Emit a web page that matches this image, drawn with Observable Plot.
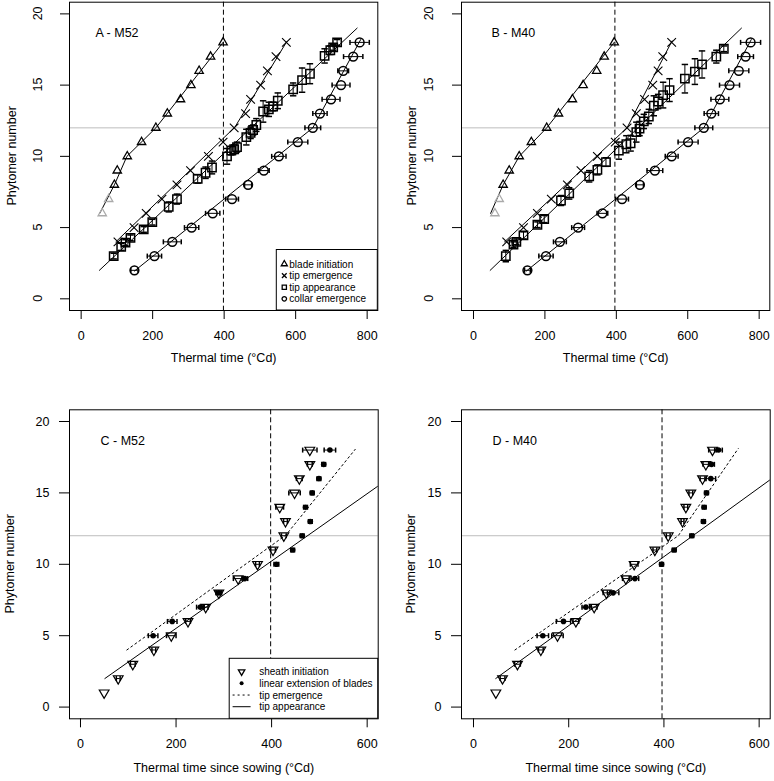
<!DOCTYPE html>
<html>
<head>
<meta charset="utf-8">
<script src="https://cdn.jsdelivr.net/npm/d3@7"></script>
<script src="https://cdn.jsdelivr.net/npm/@observablehq/plot@0.6"></script>
<style>
  body { margin: 0; background: #fff; }
  #fig { position: relative; width: 774px; height: 781px; }
  .panel { position: absolute; }
</style>
</head>
<body>
<div id="fig">
  <div class="panel" id="pA" style="left:0;top:0"></div>
  <div class="panel" id="pB" style="left:387px;top:0"></div>
  <div class="panel" id="pC" style="left:0;top:390px"></div>
  <div class="panel" id="pD" style="left:387px;top:390px"></div>
</div>
<script>
const font = "'Liberation Sans', Arial, Helvetica, sans-serif";

const yTicks = [0, 5, 10, 15, 20];
const xTicksTop = [0, 200, 400, 600, 800];
const xTicksBottom = [0, 200, 400, 600];

// ---- A - M52 ----
const aBladeEarlyT = [59, 77];
const aBladeEarlyN = [6, 7];
const aBladeT = [93, 101, 129, 169, 209, 241, 278, 307, 330, 362, 397];
const aBladeN = [8, 9, 10, 11, 12, 13, 14, 15, 16, 17, 18];
const aTipEmT = [103, 148, 182, 226, 268, 306, 356, 397, 428, 460, 474, 502, 521, 545, 574];
const aTipEmN = [4, 5, 6, 7, 8, 9, 10, 11, 12, 13, 14, 15, 16, 17, 18];
const aTipAppT = [91, 112, 124, 138, 175, 199, 245, 268, 326, 348, 366, 408, 420, 428, 436, 462, 474, 481, 490, 509, 525, 537, 550, 593, 618, 640, 681, 697, 705, 716];
const aTipAppN = [3.0, 3.65, 3.95, 4.28, 4.87, 5.38, 6.45, 7.0, 8.42, 8.85, 9.22, 10.0, 10.4, 10.5, 10.65, 11.35, 11.65, 11.85, 12.2, 13.15, 13.3, 13.5, 13.9, 14.7, 15.35, 15.8, 17.05, 17.45, 17.65, 18.0];
const aTipAppSe = [0.2, 0.25, 0.2, 0.2, 0.2, 0.2, 0.35, 0.35, 0.3, 0.4, 0.45, 0.55, 0.3, 0.3, 0.35, 0.55, 0.4, 0.35, 0.45, 0.75, 0.5, 0.3, 0.55, 0.45, 0.85, 0.7, 0.5, 0.3, 0.2, 0.2];
const aCollarT = [149, 205, 255, 309, 368, 422, 467, 511, 553, 606, 648, 668, 699, 727, 733, 761, 779];
const aCollarN = [2, 3, 4, 5, 6, 7, 8, 9, 10, 11, 12, 13, 14, 15, 16, 17, 18];
const aCollarSe = [10, 20, 25, 20, 20, 18, 10, 15, 20, 28, 22, 20, 25, 25, 15, 27, 27];
// fitted curves (knots)
const aFitBladeT = [52, 93, 128, 209, 397];
const aFitBladeN = [6, 8, 10, 12, 18];
const aFitTipEmT = [97, 430, 575];
const aFitTipEmN = [4, 12.05, 18.05];
const aFitTipAppT = [51, 772];
const aFitTipAppN = [2, 19];
const aFitCollarT = [149, 648, 782];
const aFitCollarN = [1.95, 12, 18.2];

// ---- B - M40 ----
const bBladeEarlyT = [60, 72];
const bBladeEarlyN = [6, 7];
const bBladeT = [83, 100, 128, 162, 205, 238, 277, 307, 345, 366, 394];
const bBladeN = [8, 9, 10, 11, 12, 13, 14, 15, 16, 17, 18];
const bTipEmT = [93, 140, 179, 218, 263, 301, 347, 397, 430, 456, 479, 502, 517, 530, 555];
const bTipEmN = [4, 5, 6, 7, 8, 9, 10, 11, 12, 13, 14, 15, 16, 17, 18];
const bTipAppT = [90.5, 112, 120, 140, 179, 198, 245, 268, 324, 347, 371, 407, 428, 440, 456, 465, 477, 491, 505, 517, 531, 549, 592, 620, 640, 680, 701];
const bTipAppN = [3.0, 3.8, 4.0, 4.45, 5.2, 5.6, 6.9, 7.4, 8.6, 9.05, 9.6, 10.4, 10.85, 10.92, 11.7, 11.95, 12.45, 12.8, 13.55, 13.85, 14.3, 14.65, 15.45, 15.95, 16.45, 17.0, 17.55];
const bTipAppSe = [0.4, 0.2, 0.2, 0.25, 0.2, 0.25, 0.35, 0.4, 0.4, 0.35, 0.3, 0.6, 0.6, 0.55, 0.7, 0.5, 0.5, 0.5, 0.7, 0.5, 0.9, 0.8, 1.0, 0.9, 0.95, 0.45, 0.2];
const bCollarT = [151, 203, 242, 293, 361, 416, 466, 508, 555, 601, 645, 666, 690, 717, 743, 762, 776];
const bCollarN = [2, 3, 4, 5, 6, 7, 8, 9, 10, 11, 12, 13, 14, 15, 16, 17, 18];
const bCollarSe = [8, 20, 18, 18, 15, 18, 10, 22, 18, 28, 25, 20, 25, 28, 28, 22, 28];
const bFitBladeT = [48, 83, 128, 205, 394];
const bFitBladeN = [6, 8, 10, 12, 18];
const bFitTipEmT = [87, 430, 556];
const bFitTipEmN = [4, 12, 18.1];
const bFitTipAppT = [46.7, 750.5];
const bFitTipAppN = [2, 19];
const bFitCollarT = [148, 645, 778];
const bFitCollarN = [1.95, 12, 18.2];

// ---- C - M52 (since sowing) ----
const cSheathT = [49.5, 79, 109.5, 153.5, 190, 225, 262, 289.5, 330, 370.5, 403, 425.6, 429, 417, 448, 458, 480, 480];
const cSheathN = [1, 2, 3, 4, 5, 6, 7, 8, 9, 10, 11, 12, 13, 14, 15, 16, 17, 18];
const cSheathSe = [0, 4, 5, 4, 10, 5, 5, 5, 10, 4, 5, 5, 4, 8, 12, 6, 5, 15];
const cBladeT = [152, 192, 251, 289.5, 344, 410, 444, 464, 481, 471, 485, 499, 509, 522];
const cBladeN = [5, 6, 7, 8, 9, 10, 11, 12, 13, 14, 15, 16, 17, 18];
const cBladeSe = [10, 10, 8, 6, 6, 5, 4, 4, 4, 4, 4, 4, 4, 12];

// ---- D - M40 (since sowing) ----
const dSheathT = [47, 61, 92.4, 141.4, 176.4, 215, 253.4, 279.3, 320, 337.5, 381, 409, 439, 446, 456.5, 481, 488, 502];
const dSheathN = [1, 2, 3, 4, 5, 6, 7, 8, 9, 10, 11, 12, 13, 14, 15, 16, 17, 18];
const dSheathSe = [0, 5, 6, 5, 12, 6, 6, 7, 7, 8, 4, 4, 3, 4, 4, 5, 6, 8];
const dBladeT = [145.6, 189, 236, 293.3, 339, 395, 421.5, 458.6, 483, 484.5, 489.4, 498.5, 500, 514.6];
const dBladeN = [5, 6, 7, 8, 9, 10, 11, 12, 13, 14, 15, 16, 17, 18];
const dBladeSe = [12, 15, 8, 12, 8, 4, 4, 4, 4, 4, 4, 10, 6, 8];

const zip = (t, n, e) => t.map((v, i) => ({t: v, n: n[i], e: e ? e[i] : 0}));

// error bar caps as custom symbols
const hcap = {draw(ctx, size) { const r = Math.sqrt(size / Math.PI); ctx.moveTo(-r, 0); ctx.lineTo(r, 0); }};
const vcap = {draw(ctx, size) { const r = Math.sqrt(size / Math.PI); ctx.moveTo(0, -r); ctx.lineTo(0, r); }};

function vBars(data) {
  return [
    Plot.ruleX(data, {x: "t", y1: d => d.n - d.e, y2: d => d.n + d.e, stroke: "black"}),
    Plot.dot(data, {x: "t", y: d => d.n - d.e, symbol: hcap, r: 3.2, stroke: "black", fill: "none"}),
    Plot.dot(data, {x: "t", y: d => d.n + d.e, symbol: hcap, r: 3.2, stroke: "black", fill: "none"})
  ];
}
function hBars(data, r = 2.5) {
  const d2 = data.filter(d => d.e > 0);
  return [
    Plot.ruleY(d2, {y: "n", x1: d => d.t - d.e, x2: d => d.t + d.e, stroke: "black"}),
    Plot.dot(d2, {x: d => d.t - d.e, y: "n", symbol: vcap, r, stroke: "black", fill: "none"}),
    Plot.dot(d2, {x: d => d.t + d.e, y: "n", symbol: vcap, r, stroke: "black", fill: "none"})
  ];
}
function fit(t, n, opts = {}) {
  return Plot.line(zip(t, n), {x: "t", y: "n", stroke: "black", strokeWidth: 1, ...opts});
}

function panel(cfg) {
  const chart = Plot.plot({
    width: cfg.width,
    height: cfg.height,
    marginLeft: cfg.ml,
    marginRight: cfg.mr,
    marginTop: cfg.mt,
    marginBottom: cfg.mb,
    x: {domain: cfg.xDomain},
    y: {domain: [-0.82, 20.82]},
    style: {fontFamily: font, fontSize: "12.5px", color: "black", background: "white"},
    marks: [
      Plot.ruleY([12], {stroke: "#bdbdbd", strokeWidth: 1}),
      Plot.ruleX([cfg.vline], {stroke: "black", strokeDasharray: "5,3"}),
      ...cfg.marks,
      Plot.frame({stroke: "black"}),
      Plot.axisX(cfg.xTicks, {tickSize: 9, tickPadding: cfg.xPad, label: null}),
      cfg.rotateY
        ? Plot.axisY(yTicks, {tickSize: 9, tickFormat: () => "", label: null})
        : Plot.axisY(yTicks, {tickSize: 10, tickPadding: 10, label: null}),
      Plot.text([cfg.xLabel], {frameAnchor: "bottom", dy: cfg.xTitleDy}),
      Plot.text([cfg.title], {frameAnchor: "top-left", dx: cfg.titleDx, dy: cfg.titleDy, textAnchor: "start"})
    ]
  });
  const y = chart.scale("y");
  const svg = d3.select(chart);
  const midY = (cfg.mt + cfg.height - cfg.mb) / 2;
  svg.append("text")
    .attr("transform", `translate(${cfg.yTitleX},${midY}) rotate(-90)`)
    .attr("text-anchor", "middle").attr("dy", "0.35em").attr("fill", "black")
    .text("Phytomer number");
  if (cfg.rotateY) {
    svg.append("g").selectAll("text").data(yTicks).join("text")
      .attr("transform", d => `translate(${cfg.yTickX},${y.apply(d)}) rotate(-90)`)
      .attr("text-anchor", "middle").attr("dy", "0.35em").attr("fill", "black")
      .text(d => d);
  }
  if (cfg.legend) addLegend(chart, cfg);
  document.getElementById(cfg.id).append(chart);
}

function addLegend(svg, cfg) {
  const L = cfg.legend;
  const x0 = cfg.width - cfg.mr - L.w;
  const y0 = cfg.height - cfg.mb - L.h;
  const g = d3.select(svg).append("g").attr("transform", `translate(${x0},${y0})`);
  g.append("rect").attr("width", L.w).attr("height", L.h).attr("fill", "white").attr("stroke", "black");
  L.items.forEach((it, i) => {
    const cy = L.top + i * L.step;
    if (it.kind === "line") {
      g.append("line").attr("x1", L.sx - 9).attr("x2", L.sx + 9).attr("y1", cy).attr("y2", cy)
        .attr("stroke", "black").attr("stroke-dasharray", it.dash || null);
    } else if (it.kind === "dot") {
      g.append("circle").attr("cx", L.sx).attr("cy", cy).attr("r", 2).attr("fill", "black");
    } else {
      g.append("path").attr("d", d3.symbol().type(it.kind).size(it.size)())
        .attr("transform", `translate(${L.sx},${cy}) rotate(${it.rot || 0})`)
        .attr("fill", "none").attr("stroke", "black").attr("stroke-width", 1.3);
    }
    g.append("text").attr("x", L.tx).attr("y", cy).attr("dy", "0.35em")
      .attr("text-anchor", "start")
      .attr("font-size", "10px").attr("fill", "black").text(it.label);
  });
}

function topMarks(early, blade, tipEm, tipApp, collar, fits) {
  return [
    fit(...fits.blade),
    fit(...fits.tipEm),
    fit(...fits.tipApp),
    fit(...fits.collar),
    ...vBars(tipApp),
    ...hBars(collar),
    Plot.dot(early, {x: "t", y: "n", symbol: "triangle", r: 3.1, stroke: "#aaaaaa", strokeWidth: 1.3, fill: "none"}),
    Plot.dot(blade, {x: "t", y: "n", symbol: "triangle", r: 3.1, stroke: "black", strokeWidth: 1.3, fill: "none"}),
    Plot.dot(tipEm, {x: "t", y: "n", symbol: "times", r: 4, stroke: "black", strokeWidth: 1.1}),
    Plot.dot(tipApp, {x: "t", y: "n", symbol: "square", r: 4.7, stroke: "black", fill: "none"}),
    Plot.dot(collar, {x: "t", y: "n", symbol: "circle", r: 4.4, stroke: "black", fill: "none"})
  ];
}

function bottomMarks(sheath, blade, fitEm, fitApp) {
  return [
    fit(...fitEm, {strokeDasharray: "2,3"}),
    fit(...fitApp, {clip: true}),
    ...hBars(sheath),
    ...hBars(blade),
    Plot.dot(sheath, {x: "t", y: "n", symbol: "triangle", rotate: 180, r: 3.6, stroke: "black", strokeWidth: 1.2, fill: "none"}),
    Plot.dot(blade, {x: "t", y: "n", r: 2.8, fill: "black", stroke: "none"})
  ];
}

const topLegend = {
  w: 101, h: 60.5, top: 14.5, step: 11.6, sx: 8, tx: 13,
  items: [
    {label: "blade initiation", kind: d3.symbolTriangle, size: 16},
    {label: "tip emergence", kind: d3.symbolTimes, size: 16},
    {label: "tip appearance", kind: d3.symbolSquare, size: 18},
    {label: "collar emergence", kind: d3.symbolCircle, size: 16}
  ]
};
const bottomLegend = {
  w: 148.5, h: 60, top: 13.4, step: 11.67, sx: 12.4, tx: 30,
  items: [
    {label: "sheath initiation", kind: d3.symbolTriangle, size: 18, rot: 180},
    {label: "linear extension of blades", kind: "dot"},
    {label: "tip emergence", kind: "line", dash: "2,3"},
    {label: "tip appearance", kind: "line"}
  ]
};

panel({
  id: "pA", width: 387, height: 390, ml: 69, mr: 9.7, mt: 1.7, mb: 80,
  xDomain: [-32.6, 829.8], xTicks: xTicksTop, xPad: 12, vline: 398,
  rotateY: true, yTickX: 37.5, yTitleX: 11.7, xLabel: "Thermal time (°Cd)", xTitleDy: 51,
  title: "A - M52", titleDx: 26, titleDy: 26.3, legend: topLegend,
  marks: topMarks(zip(aBladeEarlyT, aBladeEarlyN), zip(aBladeT, aBladeN), zip(aTipEmT, aTipEmN),
    zip(aTipAppT, aTipAppN, aTipAppSe), zip(aCollarT, aCollarN, aCollarSe),
    {blade: [aFitBladeT, aFitBladeN], tipEm: [aFitTipEmT, aFitTipEmN], tipApp: [aFitTipAppT, aFitTipAppN], collar: [aFitCollarT, aFitCollarN]})
});

panel({
  id: "pB", width: 387, height: 390, ml: 74, mr: 4.7, mt: 1.7, mb: 80,
  xDomain: [-33.6, 829.8], xTicks: xTicksTop, xPad: 12, vline: 396,
  rotateY: true, yTickX: 41.7, yTitleX: 25, xLabel: "Thermal time (°Cd)", xTitleDy: 51,
  title: "B - M40", titleDx: 30, titleDy: 26.3,
  marks: topMarks(zip(bBladeEarlyT, bBladeEarlyN), zip(bBladeT, bBladeN), zip(bTipEmT, bTipEmN),
    zip(bTipAppT, bTipAppN, bTipAppSe), zip(bCollarT, bCollarN, bCollarSe),
    {blade: [bFitBladeT, bFitBladeN], tipEm: [bFitTipEmT, bFitTipEmN], tipApp: [bFitTipAppT, bFitTipAppN], collar: [bFitCollarT, bFitCollarN]})
});

panel({
  id: "pC", width: 387, height: 391, ml: 69, mr: 9.3, mt: 19.3, mb: 62.7,
  xDomain: [-23.0, 623.1], xTicks: xTicksBottom, xPad: 11, vline: 398,
  rotateY: false, yTitleX: 10, xLabel: "Thermal time since sowing (°Cd)", xTitleDy: 53.4,
  title: "C - M52", titleDx: 31, titleDy: 26.7, legend: bottomLegend,
  marks: bottomMarks(zip(cSheathT, cSheathN, cSheathSe), zip(cBladeT, cBladeN, cBladeSe),
    [aFitTipEmT, aFitTipEmN], [aFitTipAppT, aFitTipAppN])
});

panel({
  id: "pD", width: 387, height: 391, ml: 74, mr: 4.3, mt: 19.3, mb: 62.7,
  xDomain: [-25.2, 623.2], xTicks: xTicksBottom, xPad: 11, vline: 396,
  rotateY: false, yTitleX: 23.3, xLabel: "Thermal time since sowing (°Cd)", xTitleDy: 53.4,
  title: "D - M40", titleDx: 31, titleDy: 26.7,
  marks: bottomMarks(zip(dSheathT, dSheathN, dSheathSe), zip(dBladeT, dBladeN, dBladeSe),
    [bFitTipEmT, bFitTipEmN], [bFitTipAppT, bFitTipAppN])
});
</script>
</body>
</html>
